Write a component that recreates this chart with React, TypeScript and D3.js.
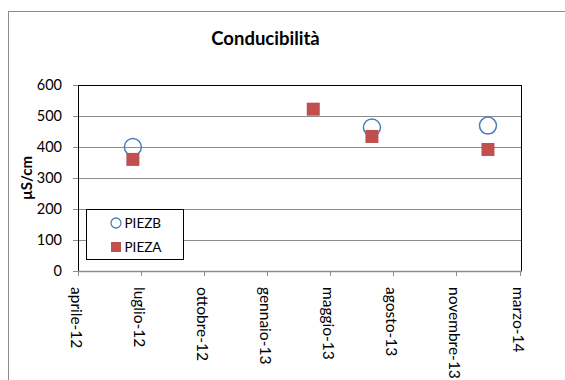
import React from "react";
import * as d3 from "d3";

const sampleDates = ["2012-06-27", "2013-04-09", "2013-07-11", "2014-01-11"];
const piezB: (number | null)[] = [400, null, 463, 469];
const piezA: (number | null)[] = [360, 522, 434, 392];
const tickDates = ["2012-04-01", "2012-07-10", "2012-10-18", "2013-01-26", "2013-05-06", "2013-08-14", "2013-11-22", "2014-03-02"];
const monthNames = ["gennaio", "febbraio", "marzo", "aprile", "maggio", "giugno", "luglio", "agosto", "settembre", "ottobre", "novembre", "dicembre"];
const yTicks = [0, 100, 200, 300, 400, 500, 600];
const title = "Conducibilità";
const yLabel = "µS/cm";
const seriesNames = ["PIEZB", "PIEZA"];

const parse = (s: string) => new Date(s + "T00:00:00Z");
const fmt = (d: Date) => `${monthNames[d.getUTCMonth()]}-${String(d.getUTCFullYear()).slice(2)}`;

export default function App() {
  const W = 565, H = 380;
  const left = 78, right = 521, top = 85, bottom = 271;
  const x = d3.scaleUtc().domain([parse(tickDates[0]), parse(tickDates[tickDates.length - 1])]).range([left, right - 1.5]);
  const y = d3.scaleLinear().domain([0, 600]).range([bottom, top]);
  const font = "Lato, 'Open Sans', sans-serif";
  const blue = "#4A7EBB";
  const red = "#C0504D";
  const sq = 13;
  return (
    <svg width={W} height={H} style={{ position: "absolute", left: 0, top: 0, background: "#fff" }} fontFamily={font}>
      <rect x={8.5} y={11.5} width={600} height={400} fill="#fff" stroke="#8c8c8c" strokeWidth={1} />
      <text x={265.5} y={45} textAnchor="middle" fontSize={18.5} fontWeight="bold" fill="#000">{title}</text>
      {yTicks.map((t) => (
        <g key={t}>
          {t > 0 && t < 600 && <line x1={left} x2={right} y1={Math.round(y(t)) + 0.5} y2={Math.round(y(t)) + 0.5} stroke="#8c8c8c" strokeWidth={1} />}
          <line x1={left - 5} x2={left} y1={Math.round(y(t)) + 0.5} y2={Math.round(y(t)) + 0.5} stroke="#8c8c8c" />
          <text x={62} y={y(t) + 5} textAnchor="end" fontSize={14.5} fill="#000">{t}</text>
        </g>
      ))}
      <rect x={left + 0.5} y={Math.round(y(600)) + 0.5} width={right - left} height={Math.round(y(0)) - Math.round(y(600))} fill="none" stroke="#000" strokeWidth={1} />
      <line x1={left} x2={right + 1} y1={Math.round(y(0)) + 0.5} y2={Math.round(y(0)) + 0.5} stroke="#8c8c8c" strokeWidth={1.5} />
      {tickDates.map((s) => {
        const d = parse(s);
        const px = Math.round(x(d)) + 0.5;
        return (
          <g key={s}>
            <line x1={px} x2={px} y1={y(0)} y2={y(0) + 5} stroke="#8c8c8c" />
            <text transform={`translate(${px - 7.5},${y(0) + 16}) rotate(90)`} fontSize={15.5} fill="#000">{fmt(d)}</text>
          </g>
        );
      })}
      <text transform={`translate(32,178) rotate(-90)`} textAnchor="middle" fontSize={15} fontWeight="bold" fill="#000">{yLabel}</text>
      {sampleDates.map((s, i) =>
        piezB[i] != null ? (
          <circle key={"b" + s} cx={x(parse(s))} cy={y(piezB[i] as number)} r={8.5} fill="none" stroke={blue} strokeWidth={1.5} />
        ) : null
      )}
      {sampleDates.map((s, i) =>
        piezA[i] != null ? (
          <rect key={"a" + s} x={x(parse(s)) - sq / 2} y={y(piezA[i] as number) - sq / 2} width={sq} height={sq} fill={red} />
        ) : null
      )}
      <rect x={86.5} y={209.5} width={97} height={50} fill="#fff" stroke="#000" strokeWidth={1} />
      <circle cx={116} cy={223} r={5} fill="none" stroke={blue} strokeWidth={1.3} />
      <text x={124.5} y={227.8} fontSize={13.5} fill="#000">{seriesNames[0]}</text>
      <rect x={111} y={242} width={10} height={10} fill={red} />
      <text x={124.5} y={252.3} fontSize={13.5} fill="#000">{seriesNames[1]}</text>
    </svg>
  );
}
